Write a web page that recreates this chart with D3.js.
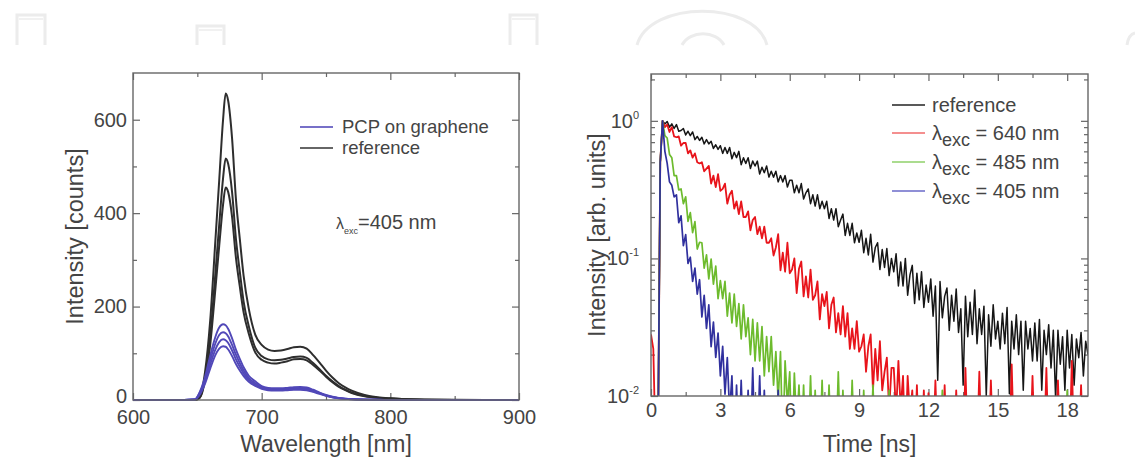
<!DOCTYPE html>
<html><head><meta charset="utf-8">
<script src="https://cdn.jsdelivr.net/npm/d3@7"></script>
<style>
body{margin:0;background:#fff;}
svg{display:block;font-family:"Liberation Sans",Arial,Helvetica,sans-serif;}
</style></head><body>
<svg id="c" width="1135" height="460"></svg>
<script>
// ---------- DATA: left panel (PL spectra) ----------
const wavelengths = [600,640,648,652,656,660,664,667,670,672,674,677,680,683,686,690,695,700,705,710,715,720,725,730,735,740,745,750,755,760,765,770,780,790,800,820,850,900];
const reference1 = [0,0,0,8,60,170,340,470,600,656,640,560,430,345,265,195,140,118,108,105,106,109,113,114,110,96,80,63,48,36,27,20,11,6,3.5,1.2,0.3,0];
const reference2 = [0,0,0,6,48,135,270,375,475,517,505,445,345,275,210,158,112,94,87,85,86,89,92,93,90,79,66,52,40,30,22,16,9,5,3,1,0.2,0];
const reference3 = [0,0,0,5,42,118,237,330,418,455,445,392,305,243,187,142,102,86,80,78,80,83,87,88,85,75,63,50,38,28,21,15,8,4.5,2.6,0.9,0.2,0];
const graphene1 = [0,0,1,18,50,95,135,155,162,160,152,132,108,88,70,52,40,30,26,25,25,26,27.5,28,27,22,16,11,7,4.5,3,2,1,0.5,0.3,0,0,0];
const graphene2 = [0,0,1,16,45,85,121,139,145,143,136,118,97,79,63,47,36,28,24,23,23,24,25.5,26,25,20,15,10,6.5,4,2.7,1.8,0.9,0.4,0.2,0,0,0];
const graphene3 = [0,0,1,14,40,76,108,124,130,128,122,106,87,71,57,43,33,26,22.5,21.5,21.5,22.5,23.5,24,23,19,14,9.5,6,3.8,2.5,1.7,0.8,0.4,0.2,0,0,0];
const graphene4 = [0,0,1,12,35,67,96,110,115,114,108,94,77,63,51,39,30,24,21,20,20,21,22,22,21,17.5,13,9,5.5,3.5,2.3,1.5,0.7,0.3,0.1,0,0,0];
const specXTicks = [600,700,800,900];
const specXMinor = [650,750,850];
const specYTicks = [0,200,400,600];
const specYMinor = [100,300,500];

// ---------- DATA: right panel (decays), one value per 0.1 ns channel; 0 = empty channel ----------
const channelWidth = 0.1; // ns
const decayReference = [0,0,0,0,.5,
 1,.95,.99,.9,.95,.88,.94,.84,.85,.88,.79,.84,.78,.83,.73,.77,.72,.76,.68,.73,.68,.71,.63,.67,.62,.66,
 .58,.64,.58,.64,.53,.59,.54,.6,.48,.54,.49,.54,.45,.51,.47,.51,.41,.46,.42,.47,.39,.43,.39,.43,.36,.4,.36,.4,.33,.37,
 .37,.3,.34,.3,.35,.27,.3,.32,.25,.29,.24,.29,.23,.26,.23,
 .26,.195,.23,.19,.23,.17,.19,.21,.147,.18,.147,.18,.13,.153,.131,
 .16,.11,.14,.106,.15,.094,.12,.13,.083,.116,.086,.118,.075,.1,.08,
 .108,.063,.094,.063,.1,.054,.076,.089,.047,.078,.05,.08,.044,.064,.048,
 .071,.038,.063,.013,.068,.037,.053,.061,.03,.054,.035,.06,.029,.043,.012,
 .053,.027,.048,.028,.059,.024,.043,.028,.045,.01,.039,.023,.046,.026,.035,
 .022,.04,.024,.044,.0104,.035,.022,.039,.02,.035,.011,.035,.022,.031,.018,
 .034,.018,.036,.011,.03,.02,.033,.016,.03,.0094,.03,.017,.027,.011,.03,
 .016,.028,.012,.026,.019,.029,.014,.025,.02];
const decay640 = [.028,.022,0,0,.5,
 1,.9,.94,.83,.9,.77,.76,.77,.66,.69,
 .69,.58,.61,.54,.58,.5,.49,.5,.43,.45,
 .47,.35,.4,.33,.41,.31,.32,.35,.25,.29,
 .31,.23,.26,.21,.26,.2,.2,.22,.16,.19,
 .2,.15,.17,.14,.17,.13,.13,.14,.105,.12,
 .15,.082,.11,.08,.13,.078,.083,.1,.056,.084,
 .095,.053,.074,.052,.083,.05,.054,.068,.036,.055,
 .045,.057,.031,.046,.052,.029,.04,.028,.045,.027,
 .04,.022,.031,.022,.035,.021,.023,.028,.015,.023,
 .028,.011,.022,.013,.025,.011,.015,.019,.0078,.016,
 .016,.0074,.018,.008,.014,0,.014,.0072,.011,0,
 .012,0,0,.011,0,.0105,0,0,.013,0,
 0,0,.012,0,0,0,0,.011,0,0,
 0,.016,0,0,0,0,0,.015,0,0,
 0,0,.013,0,0,0,0,0,0,0,
 0,.017,0,0,0,0,0,0,0,0,
 .014,0,0,0,0,0,.016,0,0,0,
 0,.013,0,0,0,0,0,.018,0,0,
 0,.012,0,0,0];
const decay485 = [0,0,0,0,.5,
 1,.78,.75,.57,.54,.4,.4,.315,.32,.25,
 .28,.186,.215,.154,.185,.117,.131,.13,.085,.106,
 .071,.099,.065,.088,.051,.069,.051,.068,.038,.056,
 .034,.055,.032,.047,.026,.046,.027,.037,.02,.036,
 .018,.034,.018,.032,.014,.027,.015,.027,.012,.021,
 .0093,.021,0,.018,.0087,.015,0,.0147,.006,.012,
 0,.012,0,0,.014,0,.011,0,0,.013,
 0,0,.012,0,0,0,.015,0,.011,0,
 0,0,.013,0,0,0,0,.011,0,0,
 0,.012,0,0,0,0,0,0,.011,0,
 0,0,0,0,0,0,0,0,0,0,
 0,0,0,0,0,0,0,0,0,0,
 0,.011,0,0,0,0,0,0,0,0,
 0,0,0,0,0,0,0,0,0,0,
 0,0,0,0,0,0,0,0,0,0,
 0,0,0,0,0,0,0,0,0,0,
 0,0,0,0,0,0,0,0,0,0,
 0,0,0,0,0,.011,0,0,0,0,
 0,0,0,0,0];
const decay405 = [0,0,0,0,.5,
 1,.6,.49,.36,.34,.28,
 .29,.182,.204,.124,.149,.092,.102,.068,.085,.055,
 .07,.0375,.054,.031,.046,.0228,.0344,.0191,.0287,.014,
 .023,.0103,.019,.0076,.014,0,
 .012,0,.013,0,0,.011,0,.016,0,0,
 .014,0,.011,0,0,0,0,0,.011,0,
 0,0,0,0,0,0,0,0,0,0,
 0,0,0,0,0,0,0,0,0,0,
 0,0,0,0,0,0,0,0,0,0,
 0,0,0,0,0,0,0,0,0,0,
 0,0,0,0,0,0,0,0,0,0,
 0,0,0,0,0,0,0,0,0,0,
 0,0,0,0,0,0,0,0,0,0,
 0,0,0,0,0,0,0,0,0,0,
 0,0,0,0,0,0,0,0,0,0,
 0,0,0,0,0,0,0,0,0,0,
 0,0,0,0,0,0,0,0,0,0,
 0,0,0,0,0,0,0,0,0,0,
 0,0,0,0,0,0,0,0,0,0,
 0,0,0];
const timeTicks = [0,3,6,9,12,15,18];
const timeMinor = [1.5,4.5,7.5,10.5,13.5,16.5];
const decadeTicks = [0.01,0.1,1];
const decadeExp = ["-2","-1","0"];
const logMinor = [0.02,0.03,0.04,0.05,0.06,0.07,0.08,0.09,0.2,0.3,0.4,0.5,0.6,0.7,0.8,0.9,2];

// ---------- DRAWING ----------
const svg = d3.select("#c");
const TXT = "#444", AX = "#666";

// faint watermark at top
const wm = svg.append("g").attr("fill","none").attr("stroke","#ececec").attr("stroke-width",3);
[[17,45,15],[197,224,26],[510,537,15]].forEach(([a,b,t])=>{
  wm.append("path").attr("d",`M${a},45V${t}H${b}V45`);
  wm.append("path").attr("d",`M${a+2},${t+4}H${b-2}`).attr("stroke-width",1.5);
});
wm.append("path").attr("d","M637,45 C650,0 755,0 767,45");
wm.append("path").attr("d","M682,45 C690,30 716,30 724,45");
wm.append("path").attr("d","M1127,45 C1128,38 1131,34 1135,33");

function styleAxis(g){
  g.select(".domain").remove();
  g.selectAll(".tick line").attr("stroke",AX).attr("stroke-width",1.2);
  g.selectAll(".tick text").attr("fill",TXT).attr("font-size",20);
}

// ===== Left panel =====
const L = {x0:133, x1:519, y0:73, y1:400};
const xS = d3.scaleLinear().domain([600,900]).range([L.x0,L.x1]);
const yS = d3.scaleLinear().domain([0,700]).range([L.y1,L.y0]);
const gl = svg.append("g");

gl.append("g").attr("transform",`translate(0,${L.y1})`)
  .call(d3.axisBottom(xS).tickValues(specXTicks).tickSize(-7).tickPadding(10)).call(styleAxis);
gl.append("g").attr("transform",`translate(0,${L.y1})`)
  .call(d3.axisBottom(xS).tickValues(specXMinor).tickSize(-4).tickFormat("")).call(styleAxis);
gl.append("g").attr("transform",`translate(0,${L.y0})`)
  .call(d3.axisTop(xS).tickValues(specXTicks).tickSize(-7).tickFormat("")).call(styleAxis);
gl.append("g").attr("transform",`translate(0,${L.y0})`)
  .call(d3.axisTop(xS).tickValues(specXMinor).tickSize(-4).tickFormat("")).call(styleAxis);
const ylL = gl.append("g").attr("transform",`translate(${L.x0},0)`)
  .call(d3.axisLeft(yS).tickValues(specYTicks).tickSize(-7).tickPadding(6)).call(styleAxis);
ylL.selectAll(".tick text").filter(d=>d===0).attr("dy","0.1em");
gl.append("g").attr("transform",`translate(${L.x0},0)`)
  .call(d3.axisLeft(yS).tickValues(specYMinor).tickSize(-4).tickFormat("")).call(styleAxis);
gl.append("g").attr("transform",`translate(${L.x1},0)`)
  .call(d3.axisRight(yS).tickValues(specYTicks).tickSize(-7).tickFormat("")).call(styleAxis);
gl.append("g").attr("transform",`translate(${L.x1},0)`)
  .call(d3.axisRight(yS).tickValues(specYMinor).tickSize(-4).tickFormat("")).call(styleAxis);

const specLine = d3.line().x((d,i)=>xS(wavelengths[i])).y(d=>yS(d)).curve(d3.curveMonotoneX);
[reference1,reference2,reference3].forEach(s=>{
  gl.append("path").attr("d",specLine(s)).attr("fill","none").attr("stroke","#2e2e2e").attr("stroke-width",2);
});
[graphene1,graphene2,graphene3,graphene4].forEach(s=>{
  gl.append("path").attr("d",specLine(s)).attr("fill","none").attr("stroke","#5148b8").attr("stroke-width",1.9);
});
gl.append("rect").attr("x",L.x0).attr("y",L.y0).attr("width",L.x1-L.x0).attr("height",L.y1-L.y0)
  .attr("fill","none").attr("stroke",AX).attr("stroke-width",1.4);

// left legend
[["PCP on graphene","#7770c8",127],["reference","#666",148]].forEach(([t,c,y])=>{
  gl.append("line").attr("x1",300).attr("x2",333).attr("y1",y).attr("y2",y).attr("stroke",c).attr("stroke-width",1.8);
  gl.append("text").attr("x",342).attr("y",y+6).attr("font-size",18.5).attr("fill",TXT).text(t);
});
const lam = gl.append("text").attr("x",336).attr("y",229).attr("fill",TXT).attr("font-size",16);
lam.append("tspan").text("λ");
lam.append("tspan").attr("font-size",9).attr("dy",5).text("exc");
lam.append("tspan").attr("font-size",20).attr("dy",-5).text("=405 nm");

gl.append("text").attr("x",(L.x0+L.x1)/2).attr("y",452).attr("text-anchor","middle")
  .attr("font-size",23).attr("fill",TXT).text("Wavelength [nm]");
gl.append("text").attr("transform",`translate(75,${(L.y0+L.y1)/2}) rotate(-90)`).attr("text-anchor","middle")
  .attr("dominant-baseline","central").attr("font-size",23.5).attr("fill",TXT).text("Intensity [counts]");

// ===== Right panel =====
const R = {x0:651, x1:1088, y0:74, y1:396};
const tS = d3.scaleLinear().domain([0,18.9]).range([R.x0,R.x1]);
const iS = d3.scaleLog().domain([0.01,2.19]).range([R.y1,R.y0]);
const gr = svg.append("g");

gr.append("g").attr("transform",`translate(0,${R.y1})`)
  .call(d3.axisBottom(tS).tickValues(timeTicks).tickSize(-7).tickPadding(7).tickFormat(d3.format("d"))).call(styleAxis);
gr.append("g").attr("transform",`translate(0,${R.y1})`)
  .call(d3.axisBottom(tS).tickValues(timeMinor).tickSize(-4).tickFormat("")).call(styleAxis);
gr.append("g").attr("transform",`translate(0,${R.y0})`)
  .call(d3.axisTop(tS).tickValues(timeTicks).tickSize(-7).tickFormat("")).call(styleAxis);
gr.append("g").attr("transform",`translate(0,${R.y0})`)
  .call(d3.axisTop(tS).tickValues(timeMinor).tickSize(-4).tickFormat("")).call(styleAxis);
const yl = gr.append("g").attr("transform",`translate(${R.x0},0)`)
  .call(d3.axisLeft(iS).tickValues(decadeTicks).tickSize(-7).tickPadding(12).tickFormat("")).call(styleAxis);
yl.selectAll(".tick text").each(function(d,i){
  const t = d3.select(this).text("10");
  t.append("tspan").attr("font-size",11).attr("dy",-9).text(decadeExp[i]);
});
gr.append("g").attr("transform",`translate(${R.x0},0)`)
  .call(d3.axisLeft(iS).tickValues(logMinor).tickSize(-4).tickFormat("")).call(styleAxis);
gr.append("g").attr("transform",`translate(${R.x1},0)`)
  .call(d3.axisRight(iS).tickValues(decadeTicks).tickSize(-7).tickFormat("")).call(styleAxis);
gr.append("g").attr("transform",`translate(${R.x1},0)`)
  .call(d3.axisRight(iS).tickValues(logMinor).tickSize(-4).tickFormat("")).call(styleAxis);

svg.append("clipPath").attr("id","clipR").append("rect")
  .attr("x",R.x0).attr("y",R.y0).attr("width",R.x1-R.x0).attr("height",R.y1-R.y0);
// empty channels (0 counts) are drawn below the axis floor and clipped
const decayLine = d3.line().x((d,i)=>tS(i*channelWidth)).y(d=>iS(Math.max(d,0.004)));
const series = [[decayReference,"#161616",1.5],[decay640,"#e8141b",1.8],[decay485,"#6dbb2d",1.7],[decay405,"#30309e",1.7]];
const plot = gr.append("g").attr("clip-path","url(#clipR)");
series.forEach(([s,c,w])=>{
  plot.append("path").attr("d",decayLine(s)).attr("fill","none").attr("stroke",c)
    .attr("stroke-width",w).attr("stroke-linejoin","round");
});
gr.append("rect").attr("x",R.x0).attr("y",R.y0).attr("width",R.x1-R.x0).attr("height",R.y1-R.y0)
  .attr("fill","none").attr("stroke",AX).attr("stroke-width",1.4);

// right legend
const legR = [["reference","#222",105,null],["640","#f06a6a",133,1],["485","#8fd06a",162,1],["405","#6a6ac8",191,1]];
legR.forEach(([t,c,y,isLam])=>{
  gr.append("line").attr("x1",892).attr("x2",925).attr("y1",y).attr("y2",y).attr("stroke",c).attr("stroke-width",1.6);
  const tx = gr.append("text").attr("x",932).attr("y",y+7).attr("font-size",20).attr("fill",TXT);
  if(!isLam){ tx.text(t); }
  else {
    tx.append("tspan").text("λ");
    tx.append("tspan").attr("font-size",18).attr("dy",6).text("exc");
    tx.append("tspan").attr("dy",-6).text(" = " + t + " nm");
  }
});

gr.append("text").attr("x",(R.x0+R.x1)/2).attr("y",452).attr("text-anchor","middle")
  .attr("font-size",23).attr("fill",TXT).text("Time [ns]");
gr.append("text").attr("transform",`translate(597,${(R.y0+R.y1)/2}) rotate(-90)`).attr("text-anchor","middle")
  .attr("dominant-baseline","central").attr("font-size",23.5).attr("fill",TXT).text("Intensity [arb. units]");
</script>
</body></html>
